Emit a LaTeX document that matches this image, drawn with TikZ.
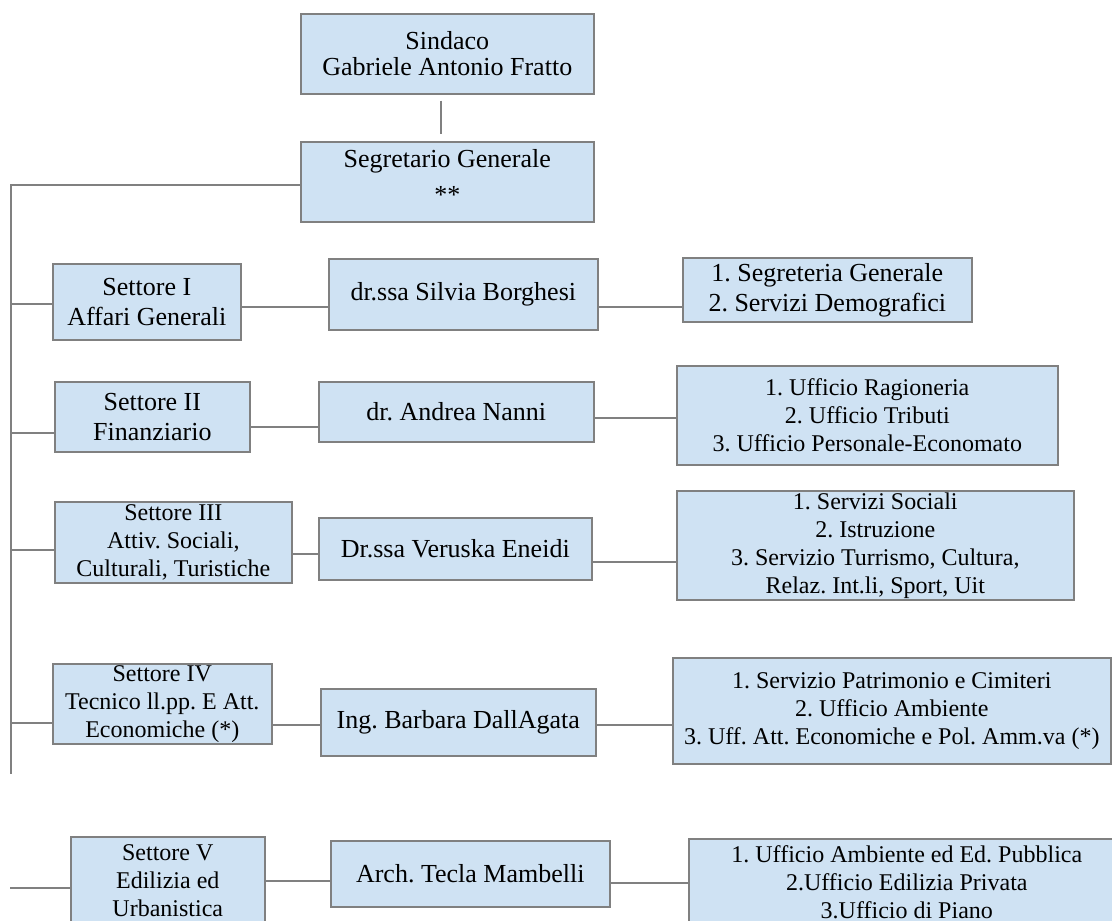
\documentclass[tikz,border=0pt]{standalone}
\usepackage{fontspec}
\setmainfont{Liberation Serif}
\usetikzlibrary{calc}
\definecolor{boxfill}{RGB}{207,226,243}
\definecolor{boxline}{RGB}{128,128,128}
\begin{document}
\frenchspacing
\begin{tikzpicture}[x=1bp,y=-1bp,
  box/.style={draw=boxline, fill=boxfill, line width=1.6bp, inner sep=0pt, align=center, anchor=north west},
  big/.style={font=\fontsize{26bp}{30bp}\selectfont},
  small/.style={font=\fontsize{24bp}{28bp}\selectfont},
  conn/.style={draw=boxline, line width=1.6bp}]
\useasboundingbox (0,0) rectangle (1112,921);
\clip (0,0) rectangle (1112,921);

% top
\node[box,font=\fontsize{26bp}{26bp}\selectfont,minimum width=293bp,minimum height=80bp] (sindaco) at (300,13) {Sindaco\\Gabriele Antonio Fratto};
\node[box,font=\fontsize{26bp}{36bp}\selectfont,minimum width=293bp,minimum height=80bp] (segr) at (300,141) {Segretario Generale\\**\rule[-10bp]{0pt}{0pt}};

% row 1
\node[box,big,minimum width=188bp,minimum height=76bp] (s1) at (52,263) {Settore I\\Affari Generali};
\node[box,big,minimum width=269bp,minimum height=71bp] (m1) at (328,258) {dr.ssa Silvia Borghesi};
\node[box,big,minimum width=289bp,minimum height=64bp] (r1) at (682,257) {1. Segreteria Generale\\2. Servizi Demografici};

% row 2
\node[box,big,minimum width=195bp,minimum height=70bp] (s2) at (54,381) {Settore II\\Finanziario};
\node[box,big,minimum width=275bp,minimum height=60bp] (m2) at (318,381) {dr. Andrea Nanni};
\node[box,small,minimum width=381bp,minimum height=99bp] (r2) at (676,365) {1. Ufficio Ragioneria\\2. Ufficio Tributi\\3. Ufficio Personale-Economato};

% row 3
\node[box,small,minimum width=237bp,minimum height=81bp] (s3) at (54,501) {Settore III\\Attiv. Sociali,\\Culturali, Turistiche};
\node[box,big,minimum width=273bp,minimum height=62bp] (m3) at (318,517) {Dr.ssa Veruska Eneidi};
\node[box,small,minimum width=397bp,minimum height=109bp] (r3) at (676,490) {1. Servizi Sociali\\2. Istruzione\\3. Servizio Turrismo, Cultura,\\Relaz. Int.li, Sport, Uit};

% row 4
\node[box,small,minimum width=219bp,minimum height=80bp] (s4) at (52,663) {Settore IV\\Tecnico ll.pp. E Att.\\Economiche (*)};
\node[box,big,minimum width=275bp,minimum height=67bp] (m4) at (320,688) {Ing. Barbara DallAgata};
\node[box,small,minimum width=438bp,minimum height=106bp] (r4) at (672,657) {1. Servizio Patrimonio e Cimiteri\\2. Ufficio Ambiente\\3. Uff. Att. Economiche e Pol. Amm.va (*)};

% row 5
\node[box,small,minimum width=194bp,minimum height=88bp] (s5) at (70,836) {Settore V\\Edilizia ed\\Urbanistica};
\node[box,big,minimum width=279bp,minimum height=66bp] (m5) at (330,840) {Arch. Tecla Mambelli};
\node[box,small,minimum width=436bp,minimum height=86bp] (r5) at (688,838) {1. Ufficio Ambiente ed Ed. Pubblica\\2.Ufficio Edilizia Privata\\3.Ufficio di Piano};

% connectors
\draw[conn] ($(sindaco.south)+(-6.5,6)$) -- ($(segr.north)+(-6.5,-7)$);
\coordinate (tTop) at (11,185);
\coordinate (tEnd) at (11,774);
\draw[conn] (segr.west |- tTop) -- (tTop) -- (tEnd);

\coordinate (b1) at (0,304); \coordinate (c1) at (0,307);
\draw[conn] (tTop |- b1) -- (s1.west |- b1);
\draw[conn] (s1.east |- c1) -- (m1.west |- c1);
\draw[conn] (m1.east |- c1) -- (r1.west |- c1);

\coordinate (b2) at (0,433); \coordinate (c2) at (0,427); \coordinate (d2) at (0,418);
\draw[conn] (tTop |- b2) -- (s2.west |- b2);
\draw[conn] (s2.east |- c2) -- (m2.west |- c2);
\draw[conn] (m2.east |- d2) -- (r2.west |- d2);

\coordinate (b3) at (0,550); \coordinate (c3) at (0,554); \coordinate (d3) at (0,562);
\draw[conn] (tTop |- b3) -- (s3.west |- b3);
\draw[conn] (s3.east |- c3) -- (m3.west |- c3);
\draw[conn] (m3.east |- d3) -- (r3.west |- d3);

\coordinate (b4) at (0,723); \coordinate (c4) at (0,725);
\draw[conn] (tTop |- b4) -- (s4.west |- b4);
\draw[conn] (s4.east |- c4) -- (m4.west |- c4);
\draw[conn] (m4.east |- c4) -- (r4.west |- c4);

\coordinate (stub) at (10,888); \coordinate (c5) at (0,881); \coordinate (d5) at (0,883);
\draw[conn] (stub) -- (s5.west |- stub);
\draw[conn] (s5.east |- c5) -- (m5.west |- c5);
\draw[conn] (m5.east |- d5) -- (r5.west |- d5);
\end{tikzpicture}
\end{document}
